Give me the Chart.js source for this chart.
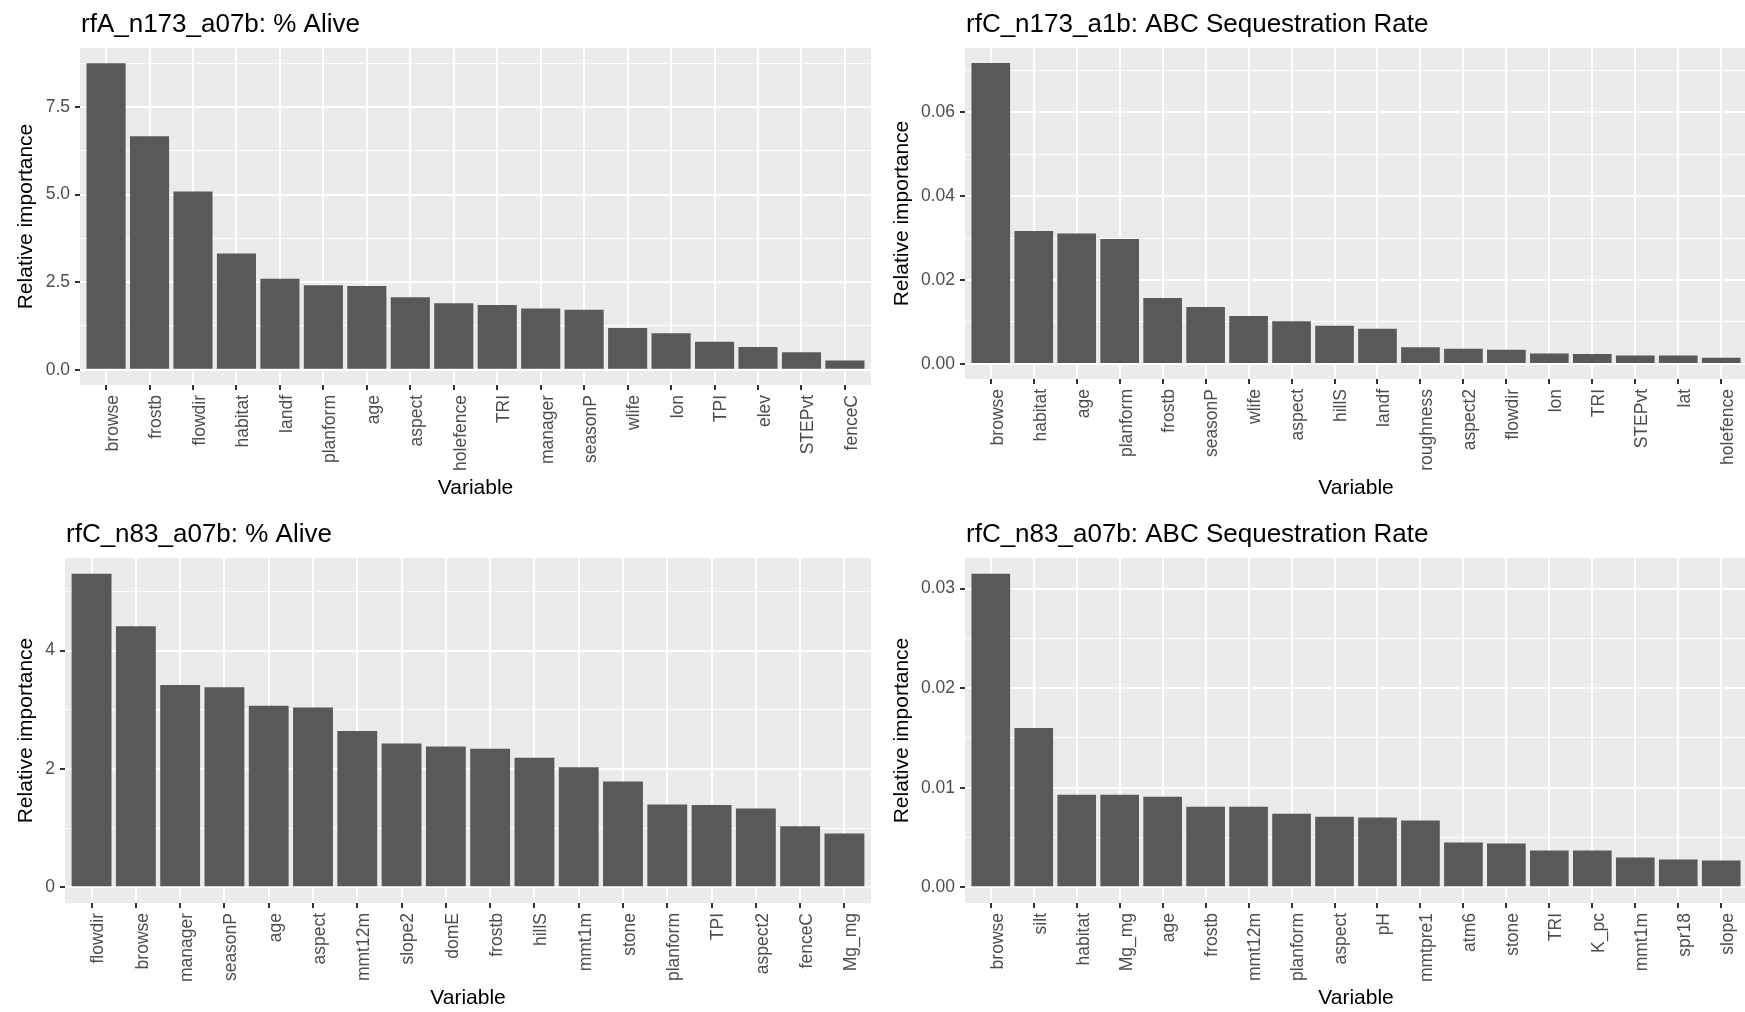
<!DOCTYPE html>
<html>
<head>
<meta charset="utf-8">
<title>Relative importance</title>
<script src="https://cdn.jsdelivr.net/npm/chart.js@4.4.1/dist/chart.umd.min.js"></script>
<style>
  html, body { margin: 0; padding: 0; background: #ffffff; overflow: hidden; }
  body { position: relative; width: 1745px; height: 1012px; }
  .panel { position: absolute; }
  canvas { display: block; }
</style>
</head>
<body>
<div class="panel" style="left:0px;top:0px"><canvas id="p1" width="872" height="510"></canvas></div>
<div class="panel" style="left:872px;top:0px"><canvas id="p2" width="875" height="510"></canvas></div>
<div class="panel" style="left:0px;top:510px"><canvas id="p3" width="872" height="502"></canvas></div>
<div class="panel" style="left:872px;top:510px"><canvas id="p4" width="875" height="502"></canvas></div>

<script>
// Panel 1: rfA_n173_a07b
const p1Title = 'rfA_n173_a07b: % Alive';
const p1Vars = ['browse', 'frostb', 'flowdir', 'habitat', 'landf', 'planform', 'age', 'aspect', 'holefence',
  'TRI', 'manager', 'seasonP', 'wlife', 'lon', 'TPI', 'elev', 'STEPvt', 'fenceC'];
const p1Values = [8.75, 6.67, 5.09, 3.32, 2.60, 2.41, 2.39, 2.07, 1.90, 1.85, 1.75, 1.71, 1.19, 1.04, 0.80, 0.65, 0.50, 0.26];
const p1Ticks = [0, 2.5, 5, 7.5];
const p1TickText = ['0.0', '2.5', '5.0', '7.5'];
const p1Minor = [1.25, 3.75, 6.25, 8.75];

// Panel 2: rfC_n173_a1b
const p2Title = 'rfC_n173_a1b: ABC Sequestration Rate';
const p2Vars = ['browse', 'habitat', 'age', 'planform', 'frostb', 'seasonP', 'wlife', 'aspect', 'hillS',
  'landf', 'roughness', 'aspect2', 'flowdir', 'lon', 'TRI', 'STEPvt', 'lat', 'holefence'];
const p2Values = [0.0717, 0.0317, 0.0311, 0.0298, 0.0157, 0.0136, 0.0114, 0.0102, 0.0091, 0.0084,
  0.0040, 0.0036, 0.0034, 0.0025, 0.0024, 0.0020, 0.0020, 0.0015];
const p2Ticks = [0, 0.02, 0.04, 0.06];
const p2TickText = ['0.00', '0.02', '0.04', '0.06'];
const p2Minor = [0.01, 0.03, 0.05, 0.07];

// Panel 3: rfC_n83_a07b
const p3Title = 'rfC_n83_a07b: % Alive';
const p3Vars = ['flowdir', 'browse', 'manager', 'seasonP', 'age', 'aspect', 'mmt12m', 'slope2', 'domE',
  'frostb', 'hillS', 'mmt1m', 'stone', 'planform', 'TPI', 'aspect2', 'fenceC', 'Mg_mg'];
const p3Values = [5.30, 4.41, 3.42, 3.38, 3.07, 3.04, 2.64, 2.43, 2.38, 2.34, 2.19, 2.03, 1.79, 1.40, 1.39, 1.33, 1.03, 0.91];
const p3Ticks = [0, 2, 4];
const p3TickText = ['0', '2', '4'];
const p3Minor = [1, 3, 5];

// Panel 4: rfC_n83_a07b
const p4Title = 'rfC_n83_a07b: ABC Sequestration Rate';
const p4Vars = ['browse', 'silt', 'habitat', 'Mg_mg', 'age', 'frostb', 'mmt12m', 'planform', 'aspect',
  'pH', 'mmtpre1', 'atm6', 'stone', 'TRI', 'K_pc', 'mmt1m', 'spr18', 'slope'];
const p4Values = [0.0315, 0.0160, 0.0093, 0.0093, 0.0091, 0.0081, 0.0081, 0.0074, 0.0071, 0.0070,
  0.0067, 0.0045, 0.0044, 0.0037, 0.0037, 0.0030, 0.0028, 0.0027];
const p4Ticks = [0, 0.01, 0.02, 0.03];
const p4TickText = ['0.00', '0.01', '0.02', '0.03'];
const p4Minor = [0.005, 0.015, 0.025];

// Styling
const FONT = '"Liberation Sans", Arial, Helvetica, sans-serif';
const BAR_COLOR = '#595959';
const PANEL_BG = '#EBEBEB';
const TICK_TEXT = '#4D4D4D';
const TICK_MARK = '#333333';

// Grey panel behind the bars
const panelBackground = {
  id: 'panelBackground',
  beforeDraw(chart) {
    const { ctx, chartArea: a } = chart;
    ctx.save();
    ctx.fillStyle = PANEL_BG;
    ctx.fillRect(a.left, a.top, a.right - a.left, a.bottom - a.top);
    ctx.restore();
  }
};

// Plot title, left aligned with the panel
const panelTitle = {
  id: 'panelTitle',
  afterDraw(chart, args, opts) {
    const ctx = chart.ctx;
    ctx.save();
    ctx.font = '26px ' + FONT;
    ctx.fillStyle = '#000000';
    ctx.textAlign = 'left';
    ctx.textBaseline = 'alphabetic';
    ctx.fillText(opts.text, chart.chartArea.left + 1, opts.baseline);
    ctx.restore();
  }
};

const isMinor = c => c.tick && c.tick.minor;

function createPanel(id, title, vars, values, ticks, tickText, minor, box) {
  const top = Math.max(...values);
  const canvas = document.getElementById(id);

  new Chart(canvas, {
    type: 'bar',
    data: {
      datasets: [{
        data: values.map((v, i) => ({ x: i, y: v })),
        backgroundColor: BAR_COLOR,
        borderWidth: 0,
        barPercentage: 0.9,
        categoryPercentage: 1
      }]
    },
    options: {
      responsive: false,
      animation: false,
      events: [],
      layout: { padding: { left: 0, top: box.top, right: canvas.width - box.right, bottom: 0 } },
      plugins: {
        legend: { display: false },
        tooltip: { enabled: false },
        panelTitle: { text: title, baseline: box.titleBaseline }
      },
      scales: {
        x: {
          type: 'linear',
          offset: false,
          min: -0.6,
          max: vars.length - 0.4,
          afterBuildTicks: s => { s.ticks = vars.map((v, i) => ({ value: i })); },
          afterFit: s => {
            s.height = canvas.height - box.bottom;
            s.paddingLeft = 0;
            s.paddingRight = 0;
          },
          ticks: {
            autoSkip: false,
            minRotation: 90,
            maxRotation: 90,
            padding: 5,
            labelOffset: 7,
            color: TICK_TEXT,
            font: { family: FONT, size: 17.5 },
            callback: v => vars[v]
          },
          grid: { offset: false, color: '#FFFFFF', lineWidth: 2, tickLength: 5, tickWidth: 2, tickColor: TICK_MARK },
          border: { display: false },
          title: {
            display: true,
            text: 'Variable',
            color: '#000000',
            font: { family: FONT, size: 21 },
            padding: { top: 0, bottom: box.xTitlePad }
          }
        },
        y: {
          min: -0.05 * top,
          max: 1.05 * top,
          afterBuildTicks: s => {
            s.ticks = ticks.map(v => ({ value: v }))
              .concat(minor.map(v => ({ value: v, minor: true })))
              .sort((a, b) => a.value - b.value);
          },
          afterFit: s => {
            s.width = box.left;
            s.paddingTop = 0;
            s.paddingBottom = 0;
          },
          ticks: {
            autoSkip: false,
            padding: 5,
            color: TICK_TEXT,
            font: { family: FONT, size: 17.5 },
            callback: function(v, i, t) {
              return t[i].minor ? '' : tickText[ticks.indexOf(v)];
            }
          },
          grid: {
            color: '#FFFFFF',
            lineWidth: c => isMinor(c) ? 1 : 2,
            tickLength: 5,
            tickWidth: 2,
            tickColor: c => isMinor(c) ? 'rgba(0,0,0,0)' : TICK_MARK
          },
          border: { display: false },
          title: {
            display: true,
            text: 'Relative importance',
            color: '#000000',
            font: { family: FONT, size: 21 },
            padding: { top: box.yTitlePad, bottom: 0 }
          }
        }
      }
    },
    plugins: [panelBackground, panelTitle]
  });
}

createPanel('p1', p1Title, p1Vars, p1Values, p1Ticks, p1TickText, p1Minor,
  { left: 80, right: 871, top: 48, bottom: 385, titleBaseline: 31.7, xTitlePad: 9.6, yTitlePad: 13.5 });
createPanel('p2', p2Title, p2Vars, p2Values, p2Ticks, p2TickText, p2Minor,
  { left: 93, right: 875, top: 48, bottom: 379, titleBaseline: 31.7, xTitlePad: 9.6, yTitlePad: 18 });
createPanel('p3', p3Title, p3Vars, p3Values, p3Ticks, p3TickText, p3Minor,
  { left: 65, right: 871, top: 48, bottom: 393, titleBaseline: 31.7, xTitlePad: 1.6, yTitlePad: 13.5 });
createPanel('p4', p4Title, p4Vars, p4Values, p4Ticks, p4TickText, p4Minor,
  { left: 93, right: 875, top: 48, bottom: 393, titleBaseline: 31.7, xTitlePad: 1.6, yTitlePad: 18 });
</script>
</body>
</html>
